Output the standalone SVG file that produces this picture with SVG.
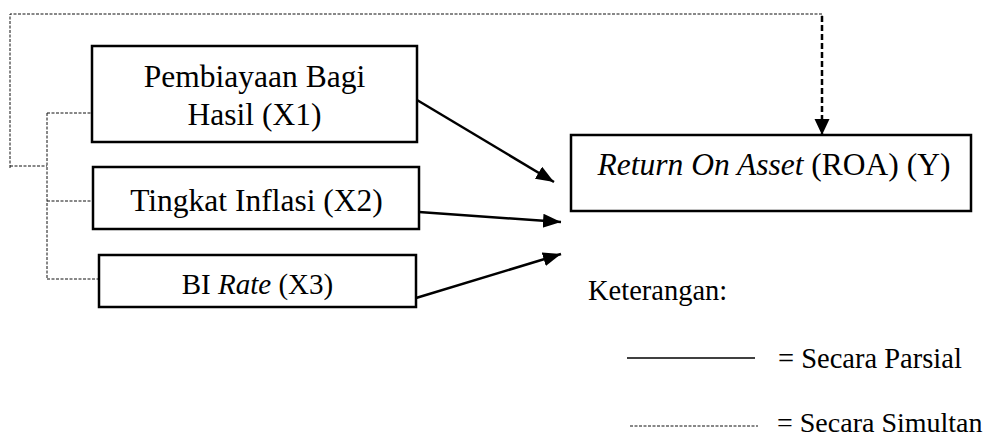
<svg xmlns="http://www.w3.org/2000/svg" width="993" height="439" viewBox="0 0 993 439">
<style>
.box{fill:#fff;stroke:#000;stroke-width:2.5}
.t{font-family:"Liberation Serif","Times New Roman",serif;fill:#000}
.sim{fill:none;stroke:#111;stroke-width:1;stroke-dasharray:3 1.5}
.par{fill:none;stroke:#000;stroke-width:2.5}
.simArrow{fill:none;stroke:#000;stroke-width:2.5;stroke-dasharray:6 3}
</style>
<defs>
<marker id="ah" markerUnits="userSpaceOnUse" markerWidth="20" markerHeight="16" refX="18" refY="7" orient="auto">
<path d="M0,0 L18,7 L0,14 z" fill="#000"/>
</marker>
<marker id="ahd" markerUnits="userSpaceOnUse" markerWidth="18" markerHeight="16" refX="16" refY="7.5" orient="auto">
<path d="M0,0 L16,7.5 L0,15 z" fill="#000"/>
</marker>
</defs>
<g id="connectors">
<polyline class="sim" points="10,168 10,14 822,14 822,18"/>
<line class="simArrow" x1="822" y1="16" x2="822" y2="135" marker-end="url(#ahd)"/>
<polyline class="sim" points="10,166 47,166"/>
<polyline class="sim" points="47,113 47,279"/>
<line class="sim" x1="47" y1="113" x2="92" y2="113"/>
<line class="sim" x1="47" y1="201" x2="93" y2="201"/>
<line class="sim" x1="47" y1="279" x2="99" y2="279"/>
<line class="par" x1="417" y1="100" x2="554" y2="182" marker-end="url(#ah)"/>
<line class="par" x1="419" y1="212" x2="561" y2="222" marker-end="url(#ah)"/>
<line class="par" x1="416" y1="298" x2="561" y2="254" marker-end="url(#ah)"/>
</g>
<g id="x1">
<rect class="box" x="92" y="46" width="325" height="96"/>
<text class="t" x="254.5" y="87" font-size="31.5" text-anchor="middle">Pembiayaan Bagi</text>
<text class="t" x="254.5" y="125" font-size="31.5" text-anchor="middle">Hasil (X1)</text>
</g>
<g id="x2">
<rect class="box" x="93" y="167" width="326" height="62"/>
<text class="t" x="256.5" y="211" font-size="31.5" text-anchor="middle">Tingkat Inflasi (X2)</text>
</g>
<g id="x3">
<rect class="box" x="99" y="255" width="317" height="52"/>
<text class="t" x="257.5" y="294" font-size="29" text-anchor="middle">BI <tspan font-style="italic">Rate</tspan> (X3)</text>
</g>
<g id="y">
<rect class="box" x="571" y="135" width="400" height="76"/>
<text class="t" x="774" y="175" font-size="31.5" text-anchor="middle"><tspan font-style="italic">Return On Asset</tspan> (ROA) (Y)</text>
</g>
<g id="legend">
<text class="t" x="588" y="300" font-size="28.5">Keterangan:</text>
<line x1="627" y1="358" x2="755" y2="358" stroke="#000" stroke-width="1.3"/>
<text class="t" x="778" y="368" font-size="28.5">= Secara Parsial</text>
<line x1="630" y1="426" x2="758" y2="426" stroke="#111" stroke-width="1" stroke-dasharray="3 1.5"/>
<text class="t" x="777" y="432" font-size="28">= Secara Simultan</text>
</g>
</svg>
